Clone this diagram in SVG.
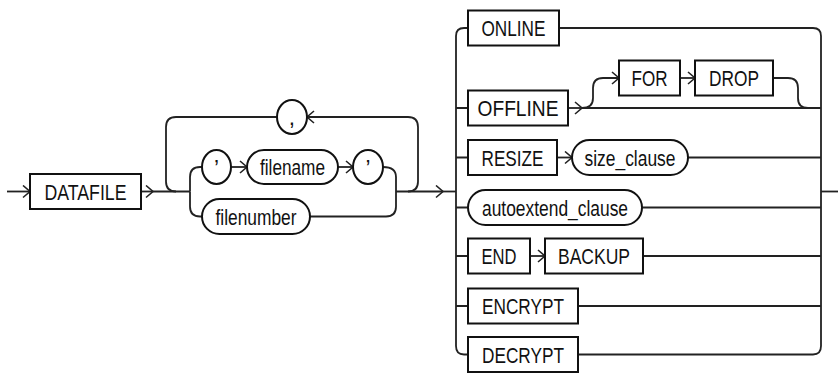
<svg xmlns="http://www.w3.org/2000/svg" width="838" height="373" viewBox="0 0 838 373">
<style>
.t{fill:#fff;stroke:#111;stroke-width:2}
.c{fill:none;stroke:#222;stroke-width:1.8}
text{font-family:"Liberation Sans Narrow","Liberation Sans",Arial,sans-serif;font-size:22.5px;fill:#111;text-anchor:middle}
</style>
<defs>
<marker id="a" viewBox="0 0 10 14" markerWidth="10" markerHeight="14" refX="8" refY="7" orient="auto" markerUnits="userSpaceOnUse">
<path d="M1,1 L8,7 L1,13" fill="none" stroke="#222" stroke-width="1.6"/>
</marker>
</defs>
<g id="connectors" class="c">
<path d="M7,191.5 H30" marker-end="url(#a)"/>
<path d="M141,191.5 H153" marker-end="url(#a)"/>
<path d="M153,191.5 H190"/>
<path d="M176,191.5 Q166,191.5 166,181.5 V127 Q166,117 176,117 H277"/>
<path d="M190,191.5 V177 Q190,167 200,167 H202"/>
<path d="M190,191.5 V206.5 Q190,216.5 200,216.5 H202"/>
<path d="M231,167 H247" marker-end="url(#a)"/>
<path d="M338,167 H353" marker-end="url(#a)"/>
<path d="M383,167 Q396,167 396,177 V206.5 Q396,216.5 386,216.5 H310"/>
<path d="M396,191.5 H443" marker-end="url(#a)"/>
<path d="M443,191.5 H456"/>
<path d="M408,191.5 Q418,191.5 418,181.5 V127 Q418,117 408,117 H307" marker-end="url(#a)"/>
<path d="M468,28 H464 Q456,28 456,36 V346 Q456,354.5 464,354.5 H468"/>
<path d="M559,28 H813 Q821,28 821,36 V346 Q821,354.5 813,354.5 H578"/>
<path d="M456,108 H468 M456,157.5 H468 M456,207.5 H468 M456,256 H468 M456,306 H468"/>
<path d="M821,191.5 H838"/>
<path d="M568,108 H582" marker-end="url(#a)"/>
<path d="M582,108 H821"/>
<path d="M582,108 Q593,108 593,98 V88 Q593,78 603,78 H619" marker-end="url(#a)"/>
<path d="M680,78 H695" marker-end="url(#a)"/>
<path d="M773,78 H788 Q798,78 798,88 V98 Q798,108 808,108"/>
<path d="M557,157.5 H572" marker-end="url(#a)"/>
<path d="M688,157.5 H821"/>
<path d="M642,207.5 H821"/>
<path d="M530,256 H545" marker-end="url(#a)"/>
<path d="M643,256 H821"/>
<path d="M578,306 H821"/>
</g>
<g id="n-datafile"><rect class="t" x="30" y="174" width="111" height="35"/><text x="85.5" y="199.5" textLength="82" lengthAdjust="spacingAndGlyphs">DATAFILE</text></g>
<g id="n-comma"><rect class="t" x="277" y="100" width="30" height="34" rx="15" ry="17"/><text x="292" y="125">,</text></g>
<g id="n-quote1"><rect class="t" x="202" y="150" width="29" height="34" rx="14.5" ry="17"/><text x="216.5" y="175">’</text></g>
<g id="n-filename"><rect class="t" x="247" y="150" width="91" height="34" rx="17" ry="17"/><text x="292.5" y="175" textLength="65" lengthAdjust="spacingAndGlyphs">filename</text></g>
<g id="n-quote2"><rect class="t" x="353" y="150" width="30" height="34" rx="15" ry="17"/><text x="368" y="175">’</text></g>
<g id="n-filenumber"><rect class="t" x="202" y="199" width="108" height="35" rx="17.5" ry="17.5"/><text x="256" y="224.5" textLength="81" lengthAdjust="spacingAndGlyphs">filenumber</text></g>
<g id="n-online"><rect class="t" x="468" y="10.5" width="91" height="35"/><text x="513.5" y="36" textLength="64" lengthAdjust="spacingAndGlyphs">ONLINE</text></g>
<g id="n-for"><rect class="t" x="619" y="60.5" width="61" height="35"/><text x="649.5" y="86" textLength="36" lengthAdjust="spacingAndGlyphs">FOR</text></g>
<g id="n-drop"><rect class="t" x="695" y="60.5" width="78" height="35"/><text x="734" y="86" textLength="50" lengthAdjust="spacingAndGlyphs">DROP</text></g>
<g id="n-offline"><rect class="t" x="468" y="90.5" width="100" height="35"/><text x="518" y="116" textLength="81" lengthAdjust="spacingAndGlyphs">OFFLINE</text></g>
<g id="n-resize"><rect class="t" x="468" y="140" width="89" height="35"/><text x="512.5" y="165.5" textLength="62" lengthAdjust="spacingAndGlyphs">RESIZE</text></g>
<g id="n-size"><rect class="t" x="572" y="140" width="116" height="35" rx="17.5" ry="17.5"/><text x="630" y="165.5" textLength="91" lengthAdjust="spacingAndGlyphs">size_clause</text></g>
<g id="n-autoextend"><rect class="t" x="468" y="190" width="174" height="35" rx="17.5" ry="17.5"/><text x="555" y="215.5" textLength="146" lengthAdjust="spacingAndGlyphs">autoextend_clause</text></g>
<g id="n-end"><rect class="t" x="468" y="238.5" width="62" height="35"/><text x="499" y="264" textLength="35" lengthAdjust="spacingAndGlyphs">END</text></g>
<g id="n-backup"><rect class="t" x="545" y="238.5" width="98" height="35"/><text x="594" y="264" textLength="72" lengthAdjust="spacingAndGlyphs">BACKUP</text></g>
<g id="n-encrypt"><rect class="t" x="468" y="288.5" width="110" height="35"/><text x="523" y="314" textLength="82" lengthAdjust="spacingAndGlyphs">ENCRYPT</text></g>
<g id="n-decrypt"><rect class="t" x="468" y="337" width="110" height="35"/><text x="523" y="362.5" textLength="82" lengthAdjust="spacingAndGlyphs">DECRYPT</text></g>
</svg>
